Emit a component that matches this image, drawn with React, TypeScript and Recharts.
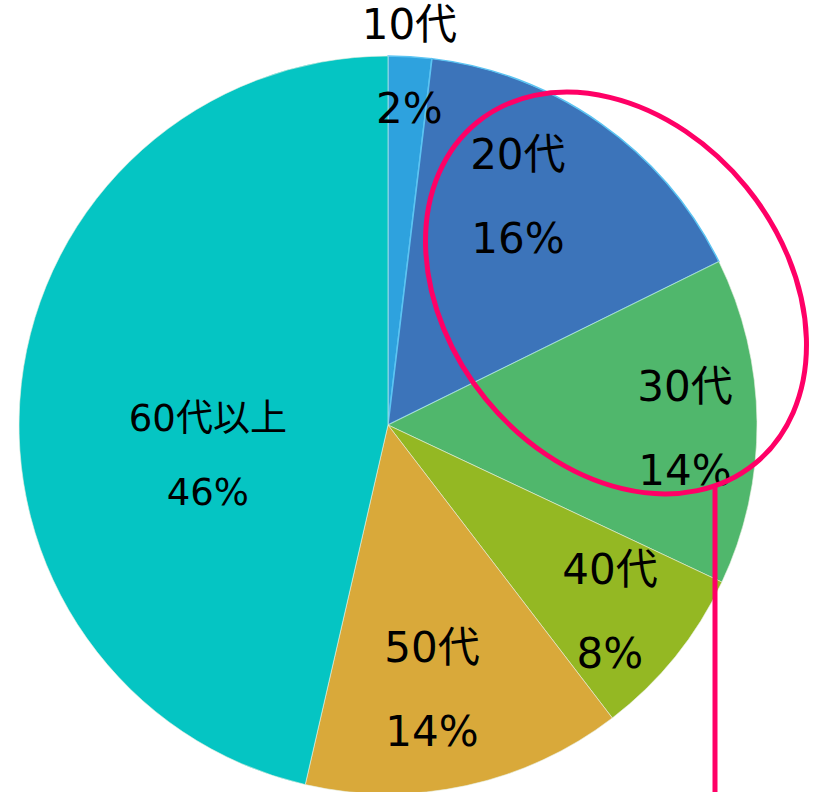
import React from "react"
import { PieChart, Pie, Cell } from "recharts"

const ageGroups = ["10代", "20代", "30代", "40代", "50代", "60代以上"]
const shares = [1.9, 15.8, 14.3, 7.6, 14.0, 46.4]
const sliceColors = ["#2EA2DE", "#3C74BA", "#50B76C", "#94B823", "#D9A93A", "#05C5C3"]

// label placement: distance from centre (fraction of radius) and angle tweak in degrees (clockwise)
const labelDist = [0.972, 0.713, 0.805, 0.786, 0.728, 0.495]
const labelTurn = [0, -5.7, 1.3, 1.2, 2.8, -16]

const data = ageGroups.map((name, i) => ({ name, value: shares[i] }))

const RADIAN = Math.PI / 180
const FONT = "'DejaVu Sans', 'Noto Sans CJK JP', sans-serif"

const renderLabel = (props: any) => {
  const { cx, cy, midAngle, outerRadius, index, value } = props
  const r = outerRadius * labelDist[index]
  const compass = (90 - midAngle + labelTurn[index]) * RADIAN
  const x = cx + r * Math.sin(compass)
  const y = cy - r * Math.cos(compass)
  const size = index === 5 ? 37 : 42
  const gap = index === 5 ? 37 : 42
  return (
    <g>
      <text x={x} y={y - gap} textAnchor="middle" dominantBaseline="central" fontSize={size} fontFamily={FONT} fill="#000">
        {ageGroups[index]}
      </text>
      <text x={x} y={y + gap} textAnchor="middle" dominantBaseline="central" fontSize={size} fontFamily={FONT} fill="#000">
        {Math.round(value)}%
      </text>
    </g>
  )
}

export default function App() {
  return (
    <div style={{ position: "absolute", left: 0, top: 0, width: 814, height: 792, overflow: "hidden", background: "#fff" }}>
      <PieChart width={814} height={792} margin={{ top: 0, right: 0, bottom: 0, left: 0 }}>
        <Pie
          data={data}
          dataKey="value"
          nameKey="name"
          cx={388}
          cy={425}
          outerRadius={369}
          startAngle={90}
          endAngle={-270}
          label={renderLabel}
          labelLine={false}
          isAnimationActive={false}
        >
          {data.map((d, i) => (
            <Cell key={d.name} fill={sliceColors[i]} stroke={i < 2 ? "#5CC4F2" : "#E8F0E0"} strokeWidth={i < 2 ? 1.5 : 0.6} />
          ))}
        </Pie>
      </PieChart>
      {/* highlight ring round the 20代/30代 slices */}
      <svg width={814} height={792} style={{ position: "absolute", left: 0, top: 0, pointerEvents: "none" }}>
        <ellipse cx={616} cy={293} rx={220} ry={168} transform="rotate(50.8 616 293)" fill="none" stroke="#FF0066" strokeWidth={5} />
        <line x1={715} y1={484} x2={715} y2={792} stroke="#FF0066" strokeWidth={5} />
      </svg>
    </div>
  )
}
